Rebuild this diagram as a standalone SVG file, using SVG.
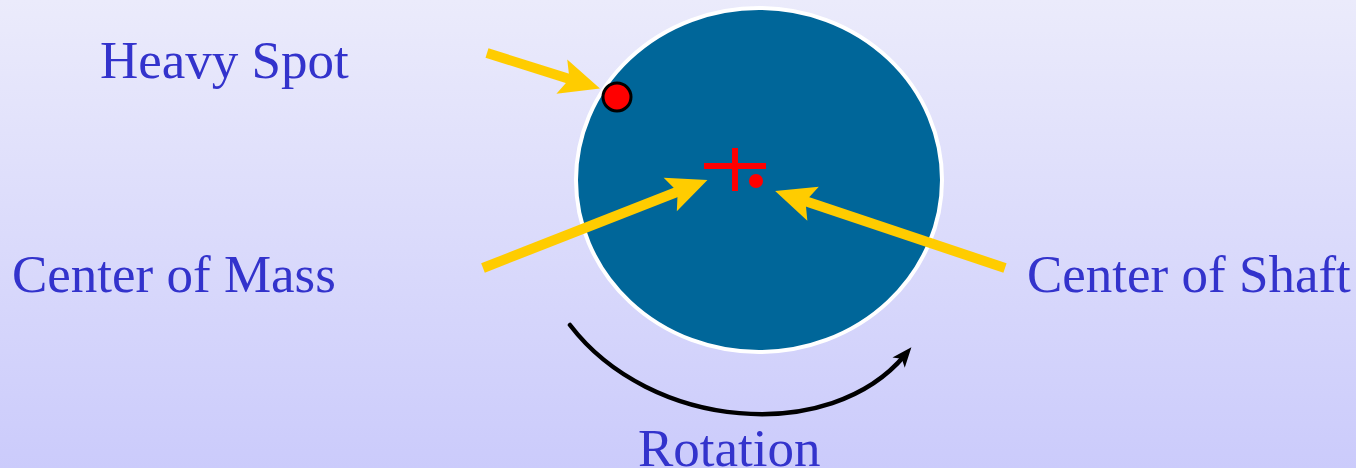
<svg xmlns="http://www.w3.org/2000/svg" width="1356" height="468" viewBox="0 0 1356 468">
<defs>
<linearGradient id="bg" x1="0" y1="0" x2="0" y2="1">
<stop offset="0" stop-color="#ebebfb"/>
<stop offset="1" stop-color="#cbcbfb"/>
</linearGradient>
<marker id="ya" markerUnits="userSpaceOnUse" markerWidth="60" markerHeight="60" viewBox="-5 -30 60 60" refX="18" refY="0" orient="auto">
<path d="M0,-18 L40,0 L0,18 L8,0 Z" fill="#ffcc00"/>
</marker>
<marker id="ba" markerUnits="userSpaceOnUse" markerWidth="30" markerHeight="30" viewBox="-5 -15 30 30" refX="10" refY="0" orient="auto">
<path d="M0,-8 L20,0 L0,8 L5,0 Z" fill="#000"/>
</marker>
<style>
.lbl{font-family:"Liberation Serif","Times New Roman",serif;font-size:53px;fill:#3333cc}
.yarrow{stroke:#ffcc00;stroke-width:10;fill:none;marker-end:url(#ya)}
</style>
</defs>
<rect width="1356" height="468" fill="url(#bg)"/>
<g id="rotor">
<ellipse cx="759" cy="180" rx="183" ry="172" fill="#006699" stroke="#ffffff" stroke-width="4"/>
</g>
<g id="heavy-spot">
<circle cx="617" cy="97" r="14" fill="#ff0000" stroke="#000" stroke-width="3"/>
<text class="lbl" x="100" y="78">Heavy Spot</text>
</g>
<g id="center-of-mass">
<line x1="704" y1="166" x2="766" y2="166" stroke="#ff0000" stroke-width="6"/>
<line x1="735" y1="148" x2="735" y2="191" stroke="#ff0000" stroke-width="6"/>
<text class="lbl" x="12" y="292">Center of Mass</text>
</g>
<g id="center-of-shaft">
<circle cx="756" cy="181" r="7" fill="#ff0000"/>
<text class="lbl" x="1027" y="292">Center of Shaft</text>
</g>
<g id="rotation">
<text class="lbl" x="638" y="466">Rotation</text>
</g>
<g id="connectors">
<line class="yarrow" x1="487" y1="53" x2="579" y2="82"/>
<line class="yarrow" x1="483" y1="268" x2="687" y2="188"/>
<line class="yarrow" x1="1005" y1="268" x2="796" y2="198"/>
<path d="M570,325 C650,430 830,445 905,355" fill="none" stroke="#000" stroke-width="4.5" stroke-linecap="round" marker-end="url(#ba)"/>
</g>
</svg>
